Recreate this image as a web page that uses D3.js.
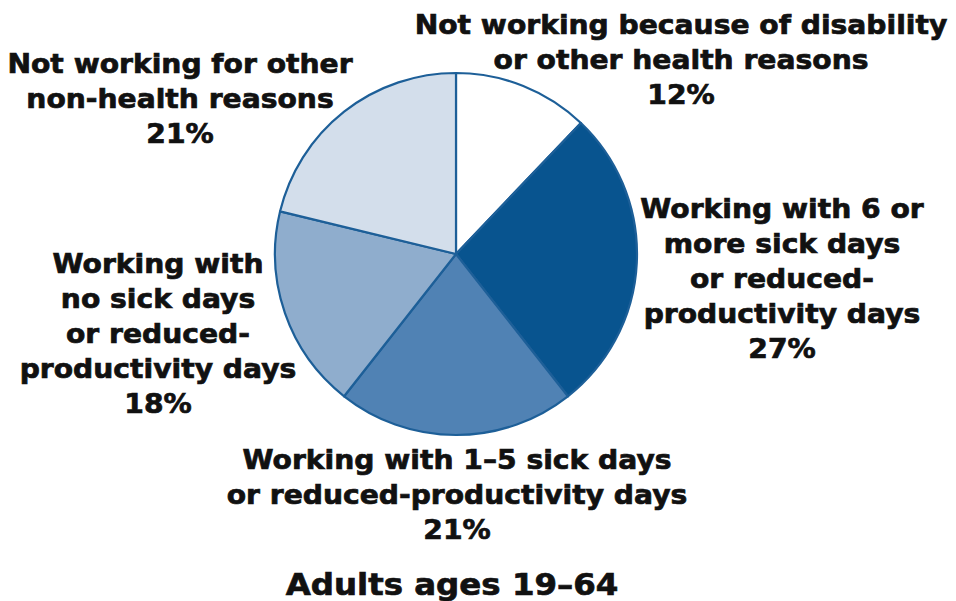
<!DOCTYPE html>
<html><head><meta charset="utf-8">
<script src="https://cdn.jsdelivr.net/npm/d3@7"></script>
<style>
body{margin:0;background:#fff;}
text{font-family:"DejaVu Sans",Arial,sans-serif;font-weight:bold;fill:#111;}
</style></head>
<body><svg id="c" width="956" height="601"></svg>
<script>
const categories = [
  "Not working because of disability or other health reasons",
  "Working with 6 or more sick days or reduced-productivity days",
  "Working with 1–5 sick days or reduced-productivity days",
  "Working with no sick days or reduced-productivity days",
  "Not working for other non-health reasons"
];
const values = [12, 27, 21, 18, 21];
const labelLines = [
  ["Not working because of disability", "or other health reasons"],
  ["Working with 6 or", "more sick days", "or reduced-", "productivity days"],
  ["Working with 1–5 sick days", "or reduced-productivity days"],
  ["Working with", "no sick days", "or reduced-", "productivity days"],
  ["Not working for other", "non-health reasons"]
];
const colors = ["#ffffff", "#08548f", "#5082b4", "#8fadcd", "#d3deeb"];
const title = "Adults ages 19–64";

// layout
const cx = 456, cy = 254, R = 181;
const labelAnchor = [[681, 34], [782, 218], [457, 469], [158, 273], [180, 73]];
const lineH = 35;
const fs = 26.5;
const refWidth = 533; // width of the first label line in the reference

const svg = d3.select("#c");
const pie = d3.pie().sort(null).value(d => d);
const arc = d3.arc().innerRadius(0).outerRadius(R);
const g = svg.append("g").attr("transform", `translate(${cx},${cy})`);
g.selectAll("path").data(pie(values)).join("path")
  .attr("d", arc)
  .attr("fill", (d, i) => colors[i])
  .attr("stroke", "#1d5f98")
  .attr("stroke-width", 2.2)
  .attr("stroke-linejoin", "round");

// measure horizontal scale
const probe = svg.append("text").attr("font-size", fs).text(labelLines[0][0]);
const sx = refWidth / probe.node().getComputedTextLength();
probe.remove();

labelLines.forEach((lines, i) => {
  const [x, y] = labelAnchor[i];
  const t = svg.append("text").attr("text-anchor", "middle")
    .attr("transform", `translate(${x},0) scale(${sx},1)`)
    .attr("font-size", fs).attr("stroke", "#111").attr("stroke-width", 0.7);
  lines.concat([values[i] + "%"]).forEach((s, j) => {
    t.append("tspan").attr("x", 0).attr("y", y + j * lineH).text(s);
  });
});

svg.append("text").attr("text-anchor", "middle")
  .attr("transform", `translate(452,0) scale(${sx},1)`)
  .attr("y", 595)
  .attr("font-size", 30.5).attr("stroke", "#111").attr("stroke-width", 0.7)
  .text(title);
</script></body></html>
